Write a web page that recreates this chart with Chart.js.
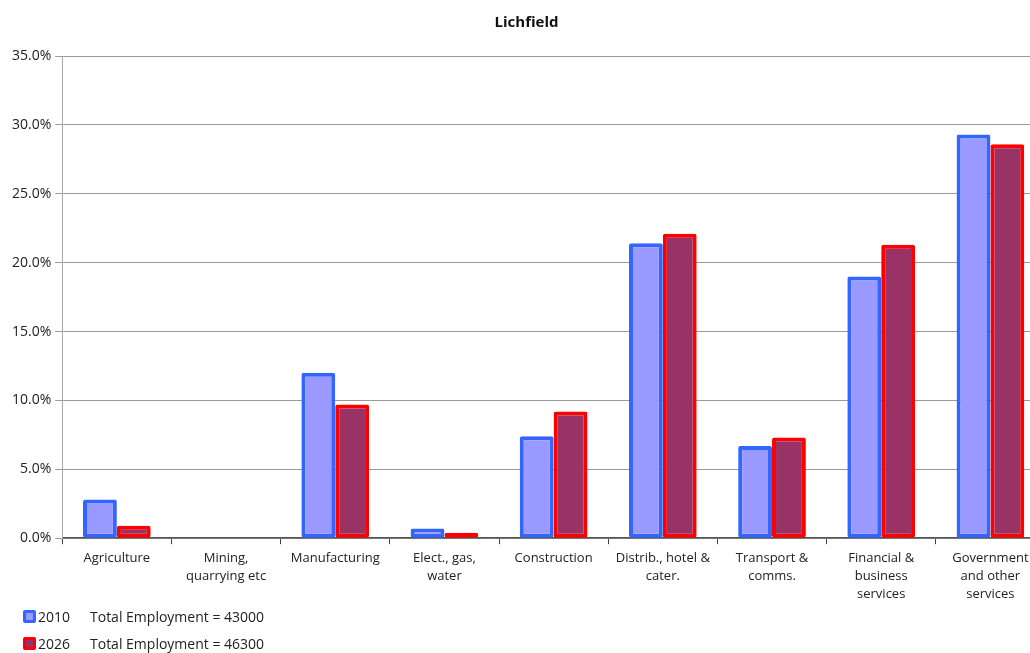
<!DOCTYPE html>
<html>
<head>
<meta charset="utf-8">
<script src="https://cdn.jsdelivr.net/npm/chart.js@4/dist/chart.umd.min.js"></script>
<style>
    html, body { margin: 0; padding: 0; background: #fff; overflow: hidden; }
    #wrap { position: relative; width: 1030px; height: 653px; overflow: hidden; }
    #chart { position: absolute; left: 0; top: 0; }
    .legendRow { position: absolute; left: 23px; font: 14px "Open Sans", sans-serif; color: #222; display: flex; align-items: center; }
    .swatch { width: 7px; height: 7px; border: 3px solid; border-radius: 2px; margin-right: 2px; }
    .yr { width: 52px; }
</style>
</head>
<body>
<div id="wrap">
    <canvas id="chart" width="1045" height="608"></canvas>
    <div class="legendRow" id="leg2010" style="top:607px"></div>
    <div class="legendRow" id="leg2026" style="top:634px"></div>
</div>
<script>
let categories = [
    "Agriculture",
    ["Mining,", "quarrying etc"],
    "Manufacturing",
    ["Elect., gas,", "water"],
    "Construction",
    ["Distrib., hotel &", "cater."],
    ["Transport &", "comms."],
    ["Financial &", "business", "services"],
    ["Government", "and other", "services"]
];
let values2010 = [2.8, 0, 12.0, 0.7, 7.4, 21.4, 6.7, 19.0, 29.3];
let values2026 = [0.9, 0, 9.7, 0.4, 9.2, 22.1, 7.3, 21.3, 28.6];
let seriesYears = ["2010", "2026"];
let totalEmployment = [43000, 46300];
let yTicks = [0, 5, 10, 15, 20, 25, 30, 35];

const fontFamily = '"Open Sans", sans-serif';
const fills = ["#9999ff", "#993366"];
const borders = ["#3366ff", "#ff0000"];

function buildLegend() {
    seriesYears.forEach((year, i) => {
        const row = document.getElementById("leg" + year);
        row.innerHTML = '<span class="swatch" style="background:' + fills[i] + ';border-color:' + borders[i] + '"></span>' +
            '<span class="yr">' + year + '</span><span>Total Employment = ' + totalEmployment[i] + '</span>';
    });
}

const ctx = document.getElementById("chart").getContext("2d");
new Chart(ctx, {
    type: "bar",
    data: {
        labels: categories,
        datasets: [values2010, values2026].map((vals, i) => ({
            label: seriesYears[i],
            data: vals,
            backgroundColor: fills[i],
            borderColor: borders[i],
            borderWidth: 4,
            borderSkipped: false,
            borderRadius: 2,
            categoryPercentage: 0.62,
            barPercentage: 1
        }))
    },
    options: {
        responsive: false,
        animation: false,
        layout: { padding: { left: 8, right: 0, top: 0, bottom: 0 } },
        plugins: {
            legend: { display: false },
            tooltip: { enabled: false },
            title: {
                display: true,
                text: "Lichfield",
                color: "#111",
                font: { family: fontFamily, size: 15, weight: "bold" },
                padding: { top: 14, bottom: 24 }
            }
        },
        scales: {
            x: {
                grid: { offset: true, drawOnChartArea: false, color: "#444", tickLength: 6 },
                border: { color: "#555", width: 1.5 },
                ticks: {
                    color: "#222",
                    font: { family: fontFamily, size: 13, lineHeight: 1.38 },
                    padding: 5,
                    maxRotation: 0,
                    autoSkip: false
                }
            },
            y: {
                min: 0,
                max: 35,
                afterBuildTicks: axis => { axis.ticks = yTicks.map(v => ({ value: v })); },
                grid: { color: "#999", tickLength: 7 },
                border: { color: "#aaa" },
                ticks: {
                    color: "#222",
                    font: { family: fontFamily, size: 14 },
                    padding: 4,
                    callback: v => v.toFixed(1) + "%"
                }
            }
        }
    }
});
buildLegend();
</script>
</body>
</html>
